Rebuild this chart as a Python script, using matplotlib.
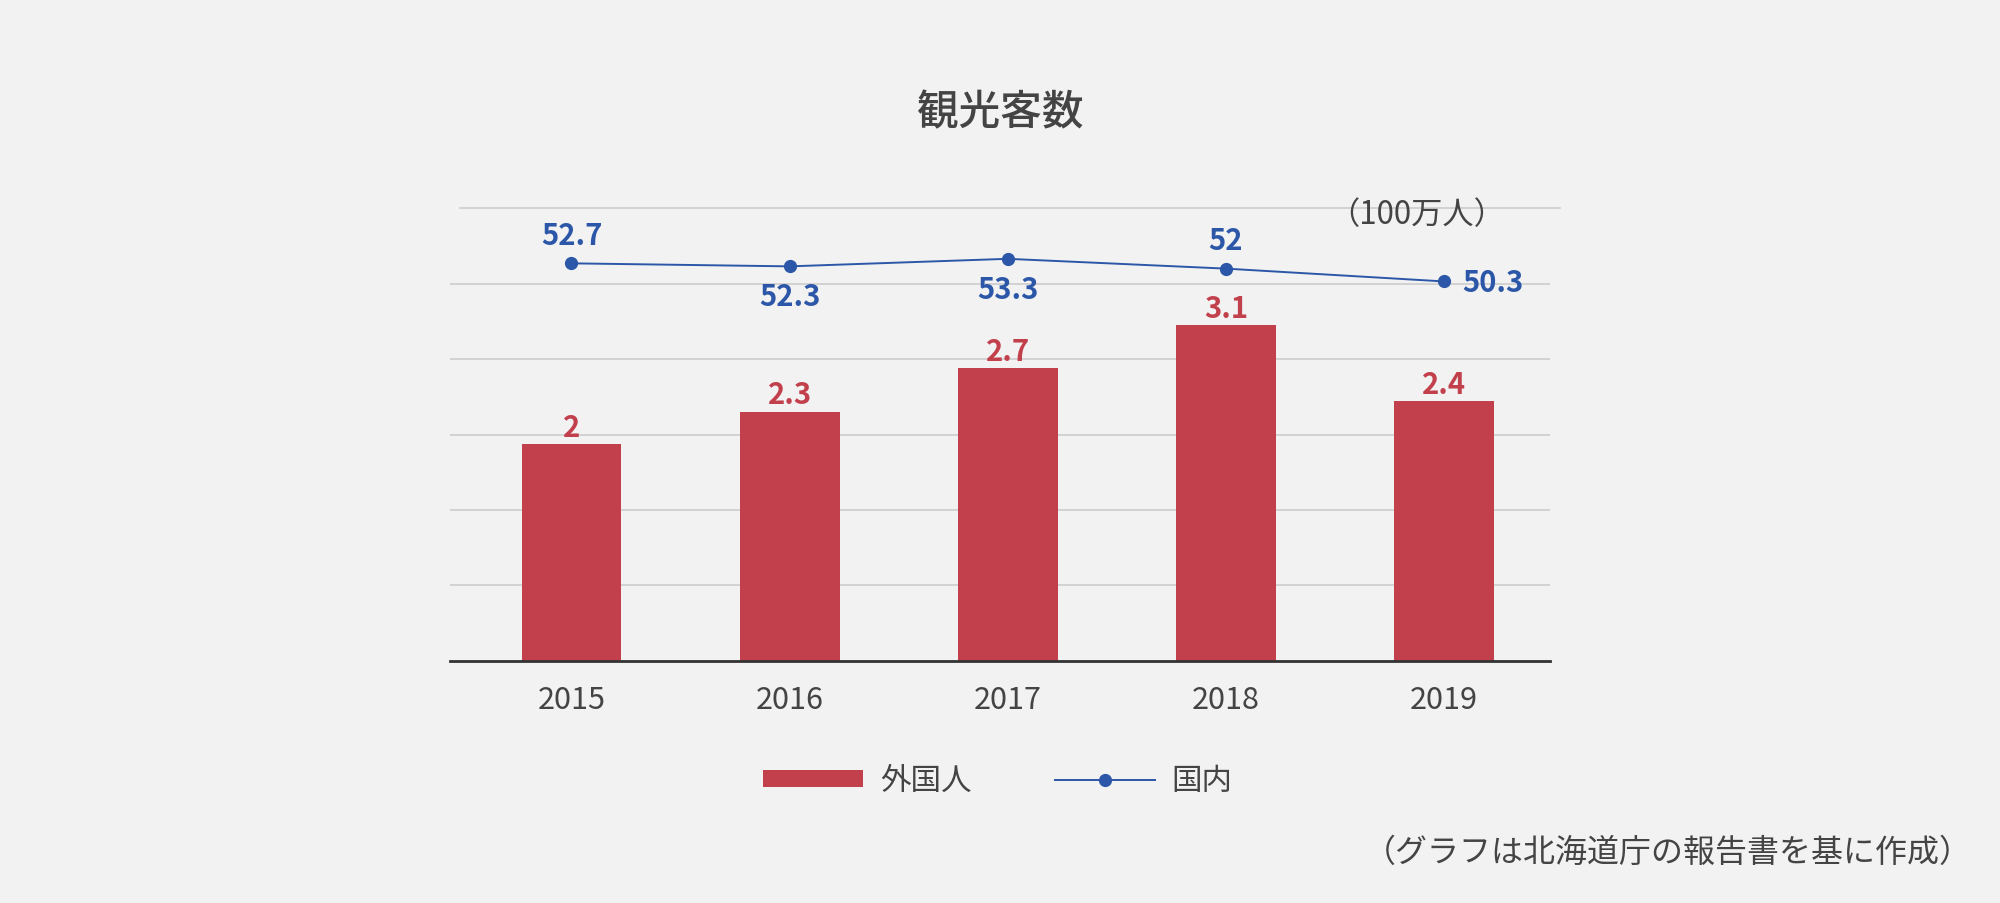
import numpy as np
import matplotlib
matplotlib.use('Agg')
import matplotlib.pyplot as plt

plt.rcParams['font.family'] = ['Noto Sans CJK JP', 'DejaVu Sans']

# data (100万人)
years    = ['2015', '2016', '2017', '2018', '2019']
foreign  = [2, 2.3, 2.7, 3.1, 2.4]        # 外国人
domestic = [52.7, 52.3, 53.3, 52, 50.3]   # 国内

# where the domestic value label goes
label_pos = ['above', 'below', 'below', 'above', 'right']

bg    = '#f2f2f2'
red   = '#c2404b'
blue  = '#2c57a8'
dark  = '#444444'
W, H = 2000, 904

fig = plt.figure(figsize=(W/100, H/100), dpi=100, facecolor=bg)
ax = fig.add_axes([450/W, 1 - 661.7/H, 1100/W, (661.7 - 209.3)/H])
ax.set_facecolor(bg)
ax2 = ax.twinx()

x = np.arange(len(years))
ymax = 4.18

# gridlines (the axis itself has no tick labels)
ax.set_ylim(0, ymax)
ax.set_yticks(np.linspace(0, ymax, 7)[1:-1])
ax.yaxis.grid(True, color='#cccccc', lw=1.2)
ax.set_axisbelow(True)
ax.axhline(ymax, xmin=10/1100, xmax=1 + 10/1100, color='#cccccc', lw=1.2, clip_on=False)
ax.tick_params(axis='y', length=0, labelleft=False)
ax2.set_ylim(0, 60)
ax2.set_yticks([])

for a in (ax, ax2):
    for s in ['left', 'right', 'top']:
        a.spines[s].set_visible(False)
ax2.spines['bottom'].set_visible(False)
ax.spines['bottom'].set_color('#333333')
ax.spines['bottom'].set_linewidth(2)

bars = ax.bar(x, foreign, width=0.458, color=red, zorder=2, label='外国人')
ax.set_xlim(-0.557, 4.486)
ax.set_xticks(x, years)
ax.tick_params(axis='x', length=0, pad=17, labelsize=22, labelcolor=dark)

for xi, v in zip(x, foreign):
    ax.annotate('%g' % v, (xi, v), xytext=(0, 6), textcoords='offset points',
                ha='center', va='baseline', fontsize=21, fontweight='bold', color=red)

line, = ax2.plot(x, domestic, color=blue, lw=1.4, marker='o', ms=8.5, label='国内')

for xi, v, p in zip(x, domestic, label_pos):
    if p == 'above':
        off, ha = (0, 14), 'center'
    elif p == 'below':
        off, ha = (0, -28), 'center'
    else:
        off, ha = (13, -7), 'left'
    ax2.annotate('%g' % v, (xi, v), xytext=off, textcoords='offset points',
                 ha=ha, va='baseline', fontsize=21, fontweight='bold', color=blue)

fig.text(1000/W, 1 - 113/H, '観光客数', ha='center', va='center', fontsize=30,
         fontweight='medium', color=dark)
fig.text(1417/W, 1 - 215/H, '（100万人）', ha='center', va='center', fontsize=22.5, color=dark)
fig.text(1972/W, 1 - 853/H, '（グラフは北海道庁の報告書を基に作成）', ha='right', va='center',
         fontsize=23, color=dark)

fs = 22 * 100 / 72
fig.legend([bars, line], ['外国人', '国内'], loc='center', bbox_to_anchor=(998/W, 1 - 781.7/H),
           ncol=2, frameon=False, fontsize=22, labelcolor=dark,
           handlelength=100/fs, handleheight=0.45, handletextpad=17/fs, columnspacing=83/fs)

fig.savefig('out.png', dpi=100, facecolor=bg)
